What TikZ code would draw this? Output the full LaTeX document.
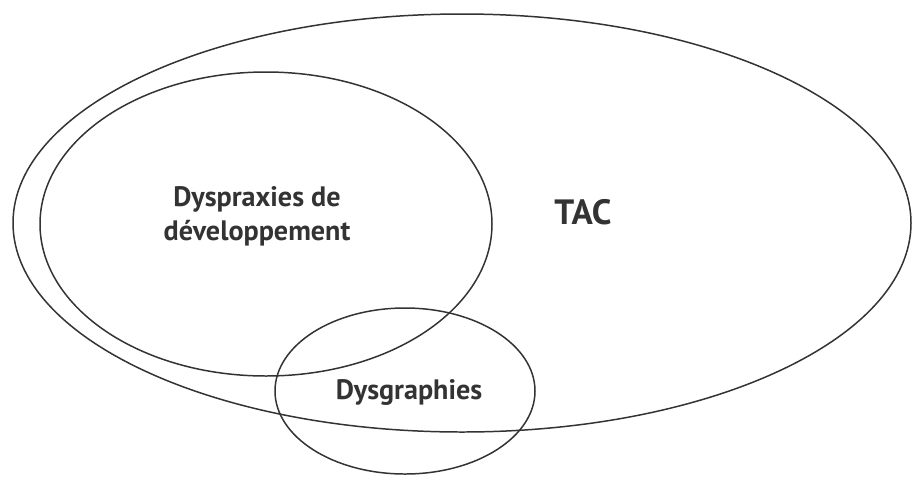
\documentclass[tikz,border=0pt]{standalone}
\usepackage{fontspec}
\setsansfont{PT Sans}
\usetikzlibrary{shapes.geometric,positioning}
\tikzstyle{Set} = [draw=black!80, line width=0.85pt, ellipse, inner sep=0pt]
\tikzstyle{Label} = [font=\sffamily\bfseries\fontsize{16}{19.5}\selectfont, text=black!80, align=center]

\begin{document}
\begin{tikzpicture}
    \useasboundingbox (0,0) rectangle (18.24,-9.72);
    \node[Set, minimum width=17.96cm, minimum height=8.36cm] (tac) at (9.24,-4.46) {};
    \node[Set, minimum width=9.04cm, minimum height=6.08cm] (dysprax) at (5.32,-4.48) {};
    \node[Set, minimum width=5.2cm, minimum height=3.32cm] (dysgraph) at (8.1,-7.82) {};
    \node[Label] (dyspraxtext) at (5.14,-4.32) {Dyspraxies de\\développement};
    \node[Label, font=\sffamily\bfseries\fontsize{20}{24}\selectfont] (tactext) at (11.66,-4.24) {TAC};
    \node[Label] (dysgraphtext) at (8.18,-7.84) {Dysgraphies};
  \end{tikzpicture}
\end{document}
